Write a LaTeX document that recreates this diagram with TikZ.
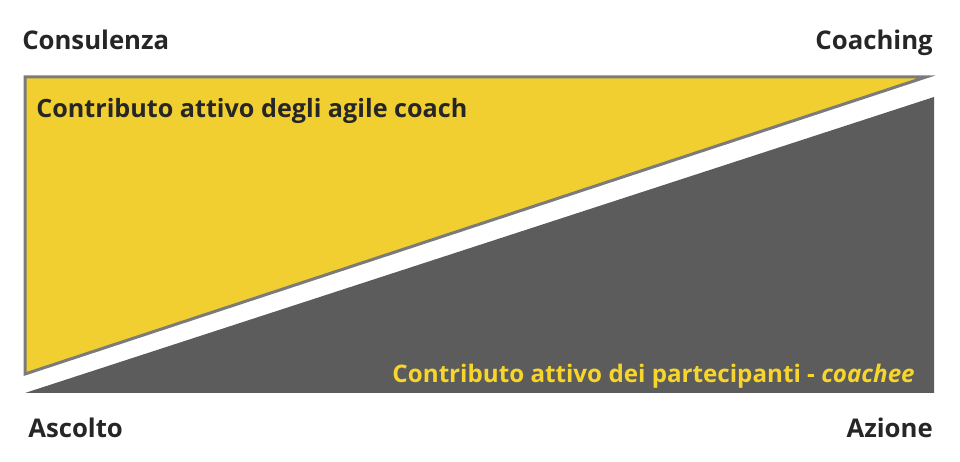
\documentclass[tikz,border=0pt]{standalone}
\usepackage{fontspec}
\setmainfont{Open Sans}
\usetikzlibrary{positioning}
\definecolor{coachyellow}{HTML}{F2CF30}
\definecolor{framegray}{HTML}{7B7B7B}
\definecolor{teamgray}{HTML}{5C5C5C}
\definecolor{labeldark}{HTML}{262626}
\definecolor{labelyellow}{HTML}{F7D52A}
\begin{document}
\begin{tikzpicture}[x=0.25mm,y=-0.25mm]
\tikzstyle{corner}=[font=\fontsize{18.3}{20}\selectfont\bfseries,text=labeldark,inner sep=0pt]
\tikzstyle{share}=[font=\fontsize{17.9}{20}\selectfont\bfseries,inner sep=0pt]
\useasboundingbox (0,0) rectangle (960,462);

% triangoli
\fill[teamgray] (25,393) -- (934,97) -- (934,393) -- cycle;
\filldraw[fill=coachyellow,draw=framegray,line width=0.75mm,line join=miter] (25,77) -- (926,77) -- (25,374) -- cycle;

% etichette agli angoli
\node[corner,anchor=base west] (consulenza) at (22,50) {Consulenza};
\node[corner,anchor=base east] (coaching) at (933,50) {Coaching};
\node[corner,anchor=base west] (ascolto) at (28,438) {Ascolto};
\node[corner,anchor=base east] (azione) at (933,438) {Azione};

% contributi
\node[share,text=labeldark,anchor=base west] (coach) at (36,118) {Contributo attivo degli agile coach};
\node[share,text=labelyellow,anchor=base east,font=\fontsize{17.2}{20}\selectfont\bfseries] (coachee) at (915,383) {Contributo attivo dei partecipanti - \textit{coachee}};
\end{tikzpicture}
\end{document}
